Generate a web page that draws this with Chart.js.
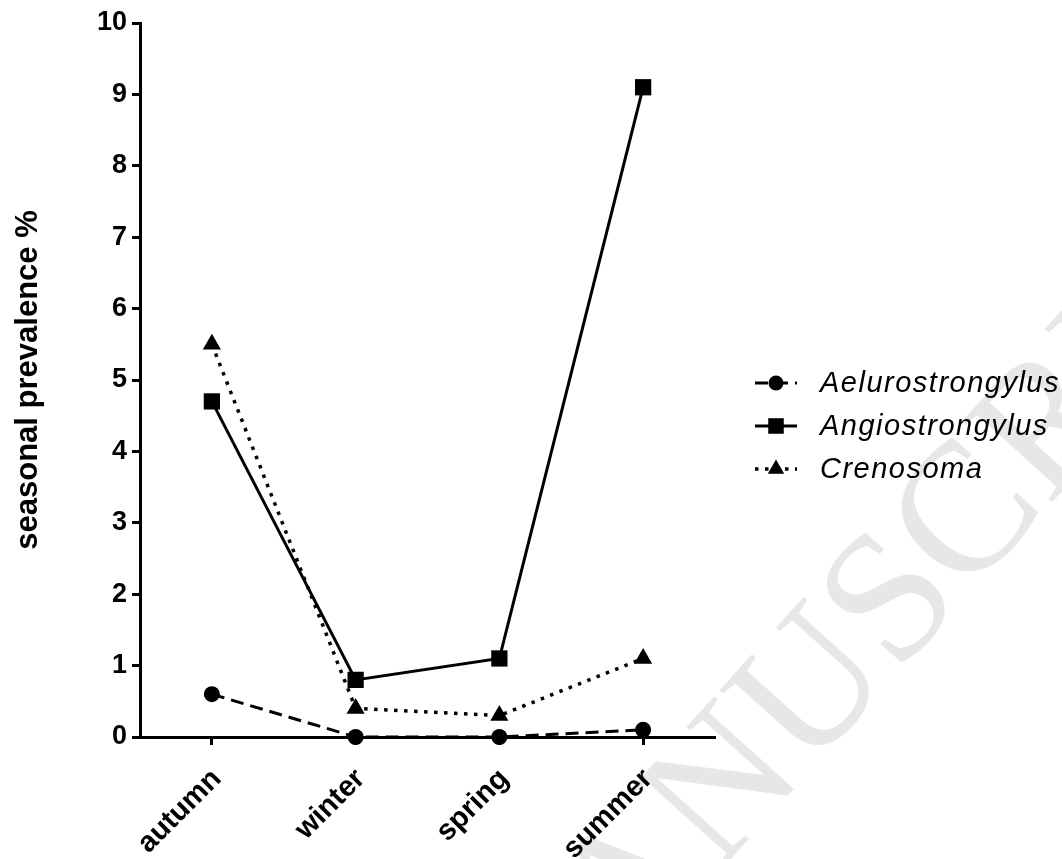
<!DOCTYPE html>
<html>
<head>
<meta charset="utf-8">
<script src="https://cdn.jsdelivr.net/npm/chart.js@4.4.1/dist/chart.umd.min.js"></script>
<style>
  html, body { margin: 0; padding: 0; background: #ffffff; }
  #wrap { width: 1062px; height: 859px; }
</style>
</head>
<body>
<div id="wrap"><canvas id="chart" width="1062" height="859"></canvas></div>
<script>
// Seasonal prevalence (%) of lungworm genera
const seasons = ['autumn', 'winter', 'spring', 'summer'];
const aelurostrongylus = [0.6, 0, 0, 0.1];
const angiostrongylus = [4.7, 0.8, 1.1, 9.1];
const crenosoma = [5.5, 0.4, 0.3, 1.1];
const seriesNames = ['Aelurostrongylus', 'Angiostrongylus', 'Crenosoma'];
const yMin = 0, yMax = 10, yStep = 1;
const yTitle = 'seasonal prevalence %';
const stampText = 'ACCEPTED MANUSCRIPT';

const SANS = '"Liberation Sans", Arial, Helvetica, sans-serif';
const INK = '#000000';

// Light journal stamp laid diagonally behind the plot
const stampPlugin = {
  id: 'stamp',
  beforeDraw(chart, args, o) {
    const ctx = chart.ctx;
    ctx.save();
    ctx.font = o.size + 'px "Liberation Serif", "Times New Roman", serif';
    ctx.fillStyle = o.color;
    ctx.textBaseline = 'alphabetic';
    const pre = ctx.measureText(o.text.slice(0, o.anchorIndex)).width;
    const wA = ctx.measureText(o.text[o.anchorIndex]).width;
    ctx.translate(o.x, o.y);
    ctx.rotate(o.angle * Math.PI / 180);
    ctx.fillText(o.text, -(pre + wA / 2), 0.33 * o.size);
    ctx.restore();
  }
};

// Legend drawn with each series' own line pattern and marker
const seriesLegend = {
  id: 'seriesLegend',
  afterDraw(chart, args, o) {
    const ctx = chart.ctx;
    chart.data.datasets.forEach((ds, i) => {
      const y = o.top + i * o.rowGap;
      ctx.save();
      ctx.strokeStyle = ds.borderColor;
      ctx.lineWidth = ds.borderWidth;
      ctx.lineCap = 'butt';
      ctx.setLineDash(ds.borderDash || []);
      ctx.beginPath();
      ctx.moveTo(o.x, y);
      ctx.lineTo(o.x + o.lineLen, y);
      ctx.stroke();
      ctx.setLineDash([]);
      ctx.fillStyle = ds.pointBackgroundColor;
      Chart.helpers.drawPoint(ctx, {
        pointStyle: ds.pointStyle, rotation: 0,
        radius: ds.legendRadius, borderWidth: 0
      }, o.x + o.lineLen / 2, y);
      ctx.fillStyle = INK;
      ctx.font = 'italic ' + o.fontSize + 'px ' + SANS;
      ctx.letterSpacing = o.letterSpacing;
      ctx.textBaseline = 'middle';
      ctx.textAlign = 'left';
      ctx.fillText(ds.label, o.textX, y + 1);
      ctx.restore();
    });
  }
};

function series(label, data, width, dash, style, radius, legendRadius) {
  return {
    label, data,
    borderColor: INK, backgroundColor: INK,
    pointBackgroundColor: INK, pointBorderColor: INK,
    borderWidth: width, borderDash: dash,
    pointStyle: style, pointRadius: radius, pointHoverRadius: radius,
    pointBorderWidth: 0, legendRadius,
    tension: 0, fill: false, clip: false
  };
}

new Chart(document.getElementById('chart'), {
  type: 'line',
  data: {
    labels: seasons,
    datasets: [
      series(seriesNames[0], aelurostrongylus, 3, [13, 7], 'circle', 8, 7.5),
      series(seriesNames[1], angiostrongylus, 3, [], 'rect', 11.5, 11),
      series(seriesNames[2], crenosoma, 3.5, [3.5, 6.5], 'triangle', 10.5, 9.5)
    ]
  },
  options: {
    responsive: false,
    animation: false,
    devicePixelRatio: 1,
    layout: { padding: { top: 23, right: 347, left: 0, bottom: 0 } },
    plugins: {
      legend: { display: false },
      tooltip: { enabled: false },
      stamp: { text: stampText, anchorIndex: 11, x: 717, y: 783, angle: -48, size: 185, color: '#e7e7e7' },
      seriesLegend: { x: 755, lineLen: 42, textX: 820, top: 383, rowGap: 43, fontSize: 29, letterSpacing: '1.5px' }
    },
    scales: {
      x: {
        type: 'category',
        offset: true,
        afterFit(scale) { scale.height = 122; },
        border: { display: true, color: INK, width: 3 },
        grid: { display: true, drawOnChartArea: false, drawTicks: true, tickLength: 8, tickWidth: 3, tickColor: INK, offset: false },
        ticks: {
          color: INK, maxRotation: 45, minRotation: 45, padding: 17, labelOffset: 5, autoSkip: false,
          font: { family: SANS, size: 29, weight: 'bold' }
        }
      },
      y: {
        min: yMin, max: yMax,
        afterFit(scale) { scale.width = 140; },
        border: { display: true, color: INK, width: 3 },
        grid: { display: true, drawOnChartArea: false, drawTicks: true, tickLength: 8, tickWidth: 3, tickColor: INK },
        ticks: {
          stepSize: yStep, color: INK, padding: 5,
          font: { family: SANS, size: 27, weight: 'bold' }
        },
        title: {
          display: true, text: yTitle, color: INK,
          padding: { top: 10, bottom: 0 },
          font: { family: SANS, size: 31, weight: 'bold' }
        }
      }
    }
  },
  plugins: [stampPlugin, seriesLegend]
});
</script>
</body>
</html>
